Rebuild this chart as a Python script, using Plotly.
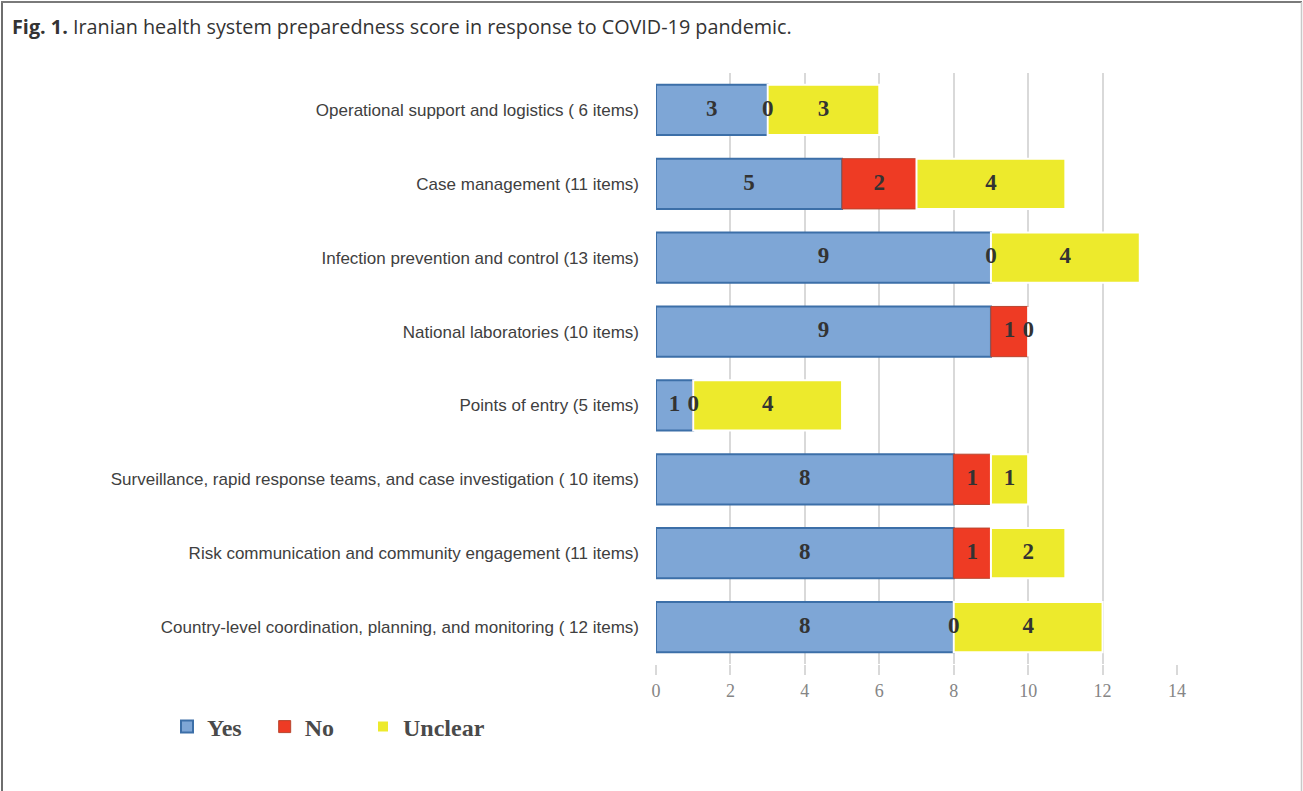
import plotly.graph_objects as go

categories = [
    "Operational support and logistics ( 6 items)",
    "Case management (11 items)",
    "Infection prevention and control (13 items)",
    "National laboratories (10 items)",
    "Points of entry (5 items)",
    "Surveillance, rapid response teams, and case investigation ( 10 items)",
    "Risk communication and community engagement (11 items)",
    "Country-level coordination, planning, and monitoring ( 12 items)",
]
yes_vals = [3, 5, 9, 9, 1, 8, 8, 8]
no_vals = [0, 2, 0, 1, 0, 1, 1, 0]
unclear_vals = [3, 4, 4, 0, 4, 1, 2, 4]
x_ticks = [0, 2, 4, 6, 8, 10, 12, 14]
legend_names = ["Yes", "No", "Unclear"]

W, H = 1303, 791
ML, MR, MT, MB = 656, 126, 73, 127
PW, PH = W - ML - MR, H - MT - MB
XMAX = 14
NB = "\u00a0"

series = [
    (legend_names[0], yes_vals, "#7EA6D6", "#3C6FA8", 2, 3),
    (legend_names[1], no_vals, "#EE3B24", "#B8452E", 1, 4),
    (legend_names[2], unclear_vals, "#EDEA2C", "#FFFFFF", 2, 0),
]

fig = go.Figure()
bases = [0] * len(categories)
label_x, label_y, label_t = [], [], []
for name, vals, fill, edge, lw, pad in series:
    fig.add_trace(go.Bar(
        y=categories, x=vals, base=bases[:], orientation="h", name=name + NB * pad,
        marker=dict(color=fill, line=dict(color=edge, width=lw)),
        width=0.68, hoverinfo="x",
    ))
    for i, v in enumerate(vals):
        label_x.append(bases[i] + v / 2)
        label_y.append(categories[i])
        label_t.append(str(v))
    bases = [b + v for b, v in zip(bases, vals)]

fig.add_trace(go.Scatter(
    x=label_x, y=label_y, text=label_t, mode="text", showlegend=False,
    textfont=dict(family="Liberation Serif, Times New Roman, serif", size=23, color="#333333", weight="bold"),
    hoverinfo="skip",
))

def px_x(px):
    return (px - ML) / PW

def px_y(py):
    return (H - MB - py) / PH

shapes = [
    dict(type="line", xref="paper", yref="paper", x0=px_x(2), x1=px_x(2), y0=px_y(2), y1=px_y(H + 2),
         line=dict(color="#6E6E6E", width=2)),
    dict(type="line", xref="paper", yref="paper", x0=px_x(1), x1=px_x(W - 1), y0=px_y(2), y1=px_y(2),
         line=dict(color="#7A7A7A", width=2)),
    dict(type="line", xref="paper", yref="paper", x0=px_x(W - 1.5), x1=px_x(W - 1.5), y0=px_y(2), y1=px_y(H + 2),
         line=dict(color="#C8C8C8", width=1.5)),
]

fig.update_layout(
    width=W, height=H,
    margin=dict(l=ML, r=MR, t=MT, b=MB, autoexpand=False),
    paper_bgcolor="white", plot_bgcolor="white",
    barmode="overlay",
    shapes=shapes,
    title=dict(
        text="<b>Fig. 1.</b> Iranian health system preparedness score in response to COVID-19 pandemic.",
        x=12 / W, xanchor="left", xref="container",
        y=1 - 27 / H, yanchor="middle", yref="container",
        font=dict(family="Open Sans, Noto Sans, sans-serif", size=19.8, color="#333333"),
    ),
    xaxis=dict(
        range=[0, XMAX], tickvals=x_ticks, showgrid=True, gridcolor="#D9D9D9", gridwidth=1.5,
        zeroline=False, showline=False, ticks="outside", ticklen=10, tickcolor="#D9D9D9", tickwidth=1.5,
        tickfont=dict(family="Liberation Serif, Times New Roman, serif", size=18, color="#858585"),
        fixedrange=True,
    ),
    yaxis=dict(
        autorange="reversed", showgrid=False, zeroline=False, showline=False, ticks="",
        ticklabelstandoff=16,
        tickfont=dict(family="Liberation Sans, Arial, sans-serif", size=17, color="#404040"),
        fixedrange=True,
    ),
    legend=dict(
        orientation="h", x=167 / W, xanchor="left", xref="container",
        y=1 - 727 / H, yanchor="middle", yref="container",
        font=dict(family="Liberation Serif, Times New Roman, serif", size=24, color="#4A4A4A", weight="bold"),
        bgcolor="rgba(0,0,0,0)",
    ),
)

fig.write_html(
    "out.html",
    config={"displayModeBar": False},
    post_script="document.body.style.margin='0';document.body.style.overflow='hidden';",
)
